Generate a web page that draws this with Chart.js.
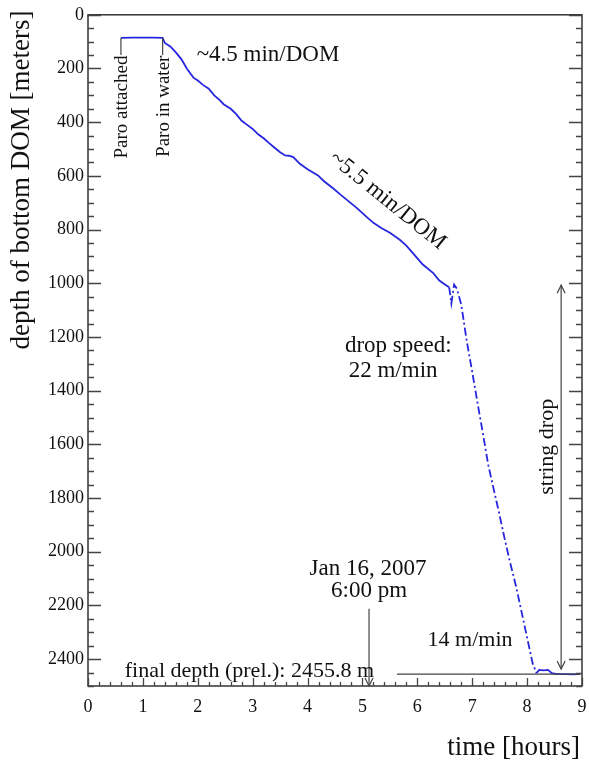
<!DOCTYPE html>
<html>
<head>
<meta charset="utf-8">
<script src="https://cdn.jsdelivr.net/npm/chart.js@4.4.1/dist/chart.umd.min.js"></script>
<style>
html,body{margin:0;padding:0;background:#fff;}
#wrap{width:589px;height:763px;}
</style>
</head>
<body>
<div id="wrap"><canvas id="c" width="589" height="763"></canvas></div>
<script>
// time in hours
const hours = [0.60,0.80,1.00,1.20,1.36,1.40,1.50,1.60,1.70,1.80,1.92,2.00,2.10,2.20,2.30,2.40,2.47,2.60,2.70,2.80,2.90,3.00,3.10,3.20,3.30,3.40,3.50,3.59,3.66,3.74,3.86,4.00,4.19,4.30,4.47,4.60,4.75,4.90,5.07,5.20,5.35,5.50,5.68,5.80,5.95,6.10,6.29,6.40,6.53,6.58,6.62,6.67,6.72,6.80,6.90,7.00,7.10,7.20,7.29,7.40,7.50,7.60,7.69,7.80,7.90,8.00,8.10,8.17,8.22,8.30,8.38,8.45,8.55,8.70,8.85,8.97];
// depth of bottom DOM in meters
const depths = [86,85,85,85,86,105,118,140,165,200,234,245,262,275,300,318,333,350,370,395,410,425,445,460,478,495,512,524,525,530,555,575,598,620,647,670,695,720,752,775,795,812,838,860,895,930,962,990,1008,1015,1075,1005,1020,1079,1215,1330,1450,1565,1675,1775,1865,1960,2040,2130,2225,2320,2415,2452,2440,2442,2440,2452,2456,2456,2457,2455];
const xTickValues = [0,1,2,3,4,5,6,7,8,9];
const yTickValues = [0,200,400,600,800,1000,1200,1400,1600,1800,2000,2200,2400];
const finalDepth = 2455.8;

const SERIF = '"Liberation Serif", "DejaVu Serif", serif';

const overlay = {
  id: 'overlay',
  afterDraw(chart) {
    const ctx = chart.ctx;
    const xs = chart.scales.x, ys = chart.scales.y;
    const a = chart.chartArea;
    const X = v => xs.getPixelForValue(v);
    const Y = v => ys.getPixelForValue(v);
    ctx.save();
    // frame
    ctx.strokeStyle = '#333';
    ctx.lineWidth = 1.5;
    ctx.strokeRect(a.left, a.top, a.right - a.left, a.bottom - a.top);
    // y ticks (left and right), minor every 50
    ctx.lineWidth = 1.3;
    ctx.strokeStyle = '#444';
    for (let v = 0; v <= 2500; v += 50) {
      const major = v % 200 === 0;
      const L = major ? 13 : 6;
      const y = Math.round(Y(v)) + 0.5;
      ctx.beginPath();
      ctx.moveTo(a.left, y); ctx.lineTo(a.left + L, y);
      ctx.moveTo(a.right, y); ctx.lineTo(a.right - L, y);
      ctx.stroke();
    }
    // x ticks, minor every 0.2
    for (let i = 0; i <= 45; i++) {
      const v = i * 0.2;
      const major = i % 5 === 0;
      const L = major ? 8 : 4;
      const x = Math.round(X(v)) + 0.5;
      ctx.beginPath();
      ctx.moveTo(x, a.bottom); ctx.lineTo(x, a.bottom - L);
      ctx.stroke();
    }

    ctx.fillStyle = '#111';
    ctx.strokeStyle = '#444';
    ctx.lineWidth = 1.2;

    function text(str, x, y, size, align, rot) {
      ctx.save();
      ctx.translate(x, y);
      if (rot) ctx.rotate(rot);
      ctx.font = size + 'px ' + SERIF;
      ctx.textAlign = align || 'center';
      ctx.textBaseline = 'middle';
      ctx.fillText(str, 0, 0);
      ctx.restore();
    }
    function arrowHead(x, y, dir) { // dir: 1 pointing down, -1 pointing up
      ctx.beginPath();
      ctx.moveTo(x - 4, y - dir * 8);
      ctx.lineTo(x, y);
      ctx.lineTo(x + 4, y - dir * 8);
      ctx.stroke();
    }

    // Paro brackets
    ctx.beginPath();
    ctx.moveTo(X(0.60), Y(86)); ctx.lineTo(X(0.60), Y(150));
    ctx.moveTo(X(1.36), Y(86)); ctx.lineTo(X(1.36), Y(150));
    ctx.stroke();
    text('Paro attached', X(0.62), Y(152), 19, 'right', -Math.PI / 2);
    text('Paro in water', X(1.38), Y(152), 19, 'right', -Math.PI / 2);

    text('~4.5 min/DOM', X(3.28), Y(148), 23, 'center');
    text('~5.5 min/DOM', X(5.46), Y(692), 23, 'center', 39 * Math.PI / 180);

    text('drop speed:', X(4.68), Y(1232), 23, 'left');
    text('22 m/min', X(4.75), Y(1328), 23, 'left');

    text('string drop', X(8.36), Y(1609), 22, 'center', -Math.PI / 2);
    // double arrow
    ctx.beginPath();
    ctx.moveTo(X(8.62), Y(1007)); ctx.lineTo(X(8.62), Y(2437));
    ctx.stroke();
    arrowHead(X(8.62), Y(1007), -1);
    arrowHead(X(8.62), Y(2437), 1);

    text('Jan 16, 2007', X(5.10), Y(2064), 23, 'center');
    text('6:00 pm', X(5.12), Y(2145), 23, 'center');
    ctx.beginPath();
    ctx.moveTo(X(5.12), Y(2212)); ctx.lineTo(X(5.12), Y(2500));
    ctx.stroke();
    arrowHead(X(5.12), Y(2500), 1);

    text('final depth (prel.): 2455.8 m', X(0.67), Y(2446), 22, 'left');
    ctx.beginPath();
    ctx.moveTo(X(5.63), Y(finalDepth)); ctx.lineTo(X(8.96), Y(finalDepth));
    ctx.stroke();

    text('14 m/min', X(6.96), Y(2330), 22, 'center');

    // axis titles
    text('time [hours]', 580, 748, 27, 'right');
    text('depth of bottom DOM [meters]', 22, 180, 27, 'center', -Math.PI / 2);
    ctx.restore();
  }
};

const dropStart = 6.55, dropEnd = 8.17;

new Chart(document.getElementById('c'), {
  type: 'scatter',
  data: {
    datasets: [{
      data: hours.map((h, i) => ({ x: h, y: depths[i] })),
      showLine: true,
      borderColor: '#2626dc',
      backgroundColor: '#2626dc',
      borderWidth: 1.8,
      pointRadius: 0,
      tension: 0,
      segment: {
        borderDash: ctx => (ctx.p0.parsed.x >= dropStart && ctx.p1.parsed.x <= dropEnd) ? [8, 3, 2, 3] : undefined
      }
    }]
  },
  options: {
    responsive: false,
    animation: false,
    events: [],
    layout: { padding: { top: 10, right: 0, left: 0, bottom: 0 } },
    plugins: { legend: { display: false }, tooltip: { enabled: false }, title: { display: false } },
    scales: {
      x: {
        type: 'linear', min: 0, max: 9,
        grid: { display: false, drawTicks: false },
        border: { display: false },
        afterBuildTicks: s => { s.ticks = xTickValues.map(v => ({ value: v })); },
        afterFit: s => { s.height = 77; s.paddingRight = 7; s.paddingLeft = 0; },
        ticks: { color: '#111', padding: 10, maxRotation: 0, autoSkip: false, font: { family: SERIF, size: 18 }, callback: v => String(v) }
      },
      y: {
        type: 'linear', min: 0, max: 2500, reverse: true,
        grid: { display: false, drawTicks: false },
        border: { display: false },
        afterBuildTicks: s => { s.ticks = yTickValues.map(v => ({ value: v })); },
        afterFit: s => { s.width = 88; },
        ticks: { color: '#111', padding: 4, autoSkip: false, font: { family: SERIF, size: 18 }, callback: v => String(v) }
      }
    }
  },
  plugins: [overlay]
});
</script>
</body>
</html>
